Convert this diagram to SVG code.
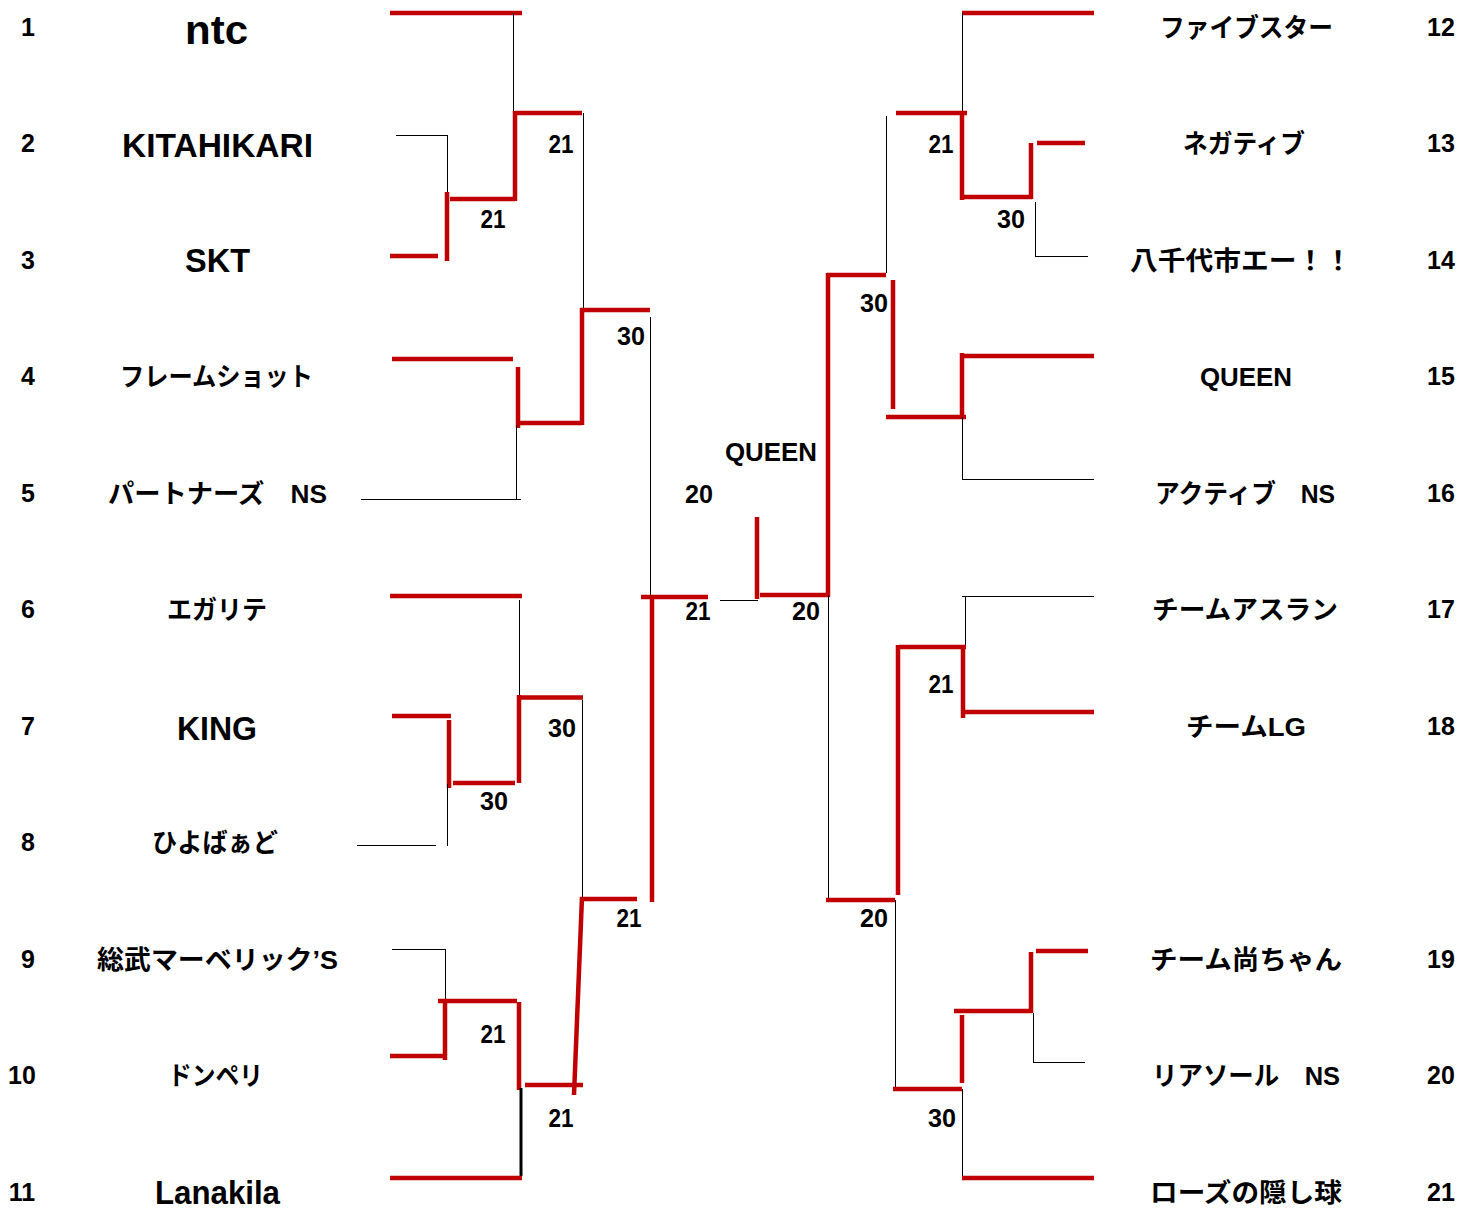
<svg xmlns="http://www.w3.org/2000/svg" width="1477" height="1209" viewBox="0 0 1477 1209">
<style>
text{font-family:"Liberation Sans","Noto Sans CJK JP",sans-serif;font-weight:bold;fill:#000;text-anchor:middle}
.num{font-size:25px}
.nm{font-size:26px}
.big{font-size:34px}
.sc{font-size:26px}
.r{stroke:#C00000;stroke-width:4.5;fill:none}
.k{stroke:#000;stroke-width:1;fill:none;shape-rendering:crispEdges}
.k3{stroke:#000;stroke-width:3;fill:none}
</style>
<rect width="1477" height="1209" fill="#fff"/>
<g id="seeds">
<text class="num" x="28" y="36">1</text>
<text class="num" x="28" y="152">2</text>
<text class="num" x="28" y="269">3</text>
<text class="num" x="28" y="385">4</text>
<text class="num" x="28" y="502">5</text>
<text class="num" x="28" y="618">6</text>
<text class="num" x="28" y="735">7</text>
<text class="num" x="28" y="851">8</text>
<text class="num" x="28" y="968">9</text>
<text class="num" x="22" y="1084">10</text>
<text class="num" x="22" y="1201">11</text>
<text class="num" x="1441" y="36">12</text>
<text class="num" x="1441" y="152">13</text>
<text class="num" x="1441" y="269">14</text>
<text class="num" x="1441" y="385">15</text>
<text class="num" x="1441" y="502">16</text>
<text class="num" x="1441" y="618">17</text>
<text class="num" x="1441" y="735">18</text>
<text class="num" x="1441" y="968">19</text>
<text class="num" x="1441" y="1084">20</text>
<text class="num" x="1441" y="1201">21</text>
</g>
<g id="team1"><text class="big" style="font-size:40px" x="216.5" y="44" textLength="63" lengthAdjust="spacingAndGlyphs">ntc</text></g>
<g id="team2"><text class="big" x="217.5" y="157" textLength="191" lengthAdjust="spacingAndGlyphs">KITAHIKARI</text></g>
<g id="team3"><text class="big" x="217.5" y="272" textLength="65" lengthAdjust="spacingAndGlyphs">SKT</text></g>
<g id="team4"><text class="nm" x="216.5" y="386" textLength="193" lengthAdjust="spacingAndGlyphs">フレームショット</text></g>
<g id="team5"><text class="nm" x="217.5" y="503" textLength="219" lengthAdjust="spacingAndGlyphs">パートナーズ　NS</text></g>
<g id="team6"><text class="nm" x="217" y="619" textLength="100" lengthAdjust="spacingAndGlyphs">エガリテ</text></g>
<g id="team7"><text class="big" x="217" y="740" textLength="80" lengthAdjust="spacingAndGlyphs">KING</text></g>
<g id="team8"><text class="nm" x="215" y="852" textLength="126" lengthAdjust="spacingAndGlyphs">ひよばぁど</text></g>
<g id="team9"><text class="nm" x="217.5" y="969" textLength="241" lengthAdjust="spacingAndGlyphs">総武マーベリック’S</text></g>
<g id="team10"><text class="nm" x="215.5" y="1085" textLength="95" lengthAdjust="spacingAndGlyphs">ドンペリ</text></g>
<g id="team11"><text class="big" x="217.5" y="1204" textLength="125" lengthAdjust="spacingAndGlyphs">Lanakila</text></g>
<g id="team12"><text class="nm" x="1246.5" y="37" textLength="173" lengthAdjust="spacingAndGlyphs">ファイブスター</text></g>
<g id="team13"><text class="nm" x="1244" y="153" textLength="122" lengthAdjust="spacingAndGlyphs">ネガティブ</text></g>
<g id="team14"><text class="nm" x="1241" y="270" textLength="222" lengthAdjust="spacingAndGlyphs">八千代市エー！！</text></g>
<g id="team15"><text class="nm" x="1246" y="386" textLength="92" lengthAdjust="spacingAndGlyphs">QUEEN</text></g>
<g id="team16"><text class="nm" x="1245" y="503" textLength="180" lengthAdjust="spacingAndGlyphs">アクティブ　NS</text></g>
<g id="team17"><text class="nm" x="1245" y="619" textLength="186" lengthAdjust="spacingAndGlyphs">チームアスラン</text></g>
<g id="team18"><text class="nm" x="1246" y="736" textLength="120" lengthAdjust="spacingAndGlyphs">チームLG</text></g>
<g id="team19"><text class="nm" x="1246" y="969" textLength="192" lengthAdjust="spacingAndGlyphs">チーム尚ちゃん</text></g>
<g id="team20"><text class="nm" x="1246" y="1085" textLength="188" lengthAdjust="spacingAndGlyphs">リアソール　NS</text></g>
<g id="team21"><text class="nm" x="1246" y="1202" textLength="192" lengthAdjust="spacingAndGlyphs">ローズの隠し球</text></g>
<g id="scores">
<text class="sc" x="561" y="153" textLength="25" lengthAdjust="spacingAndGlyphs">21</text>
<text class="sc" x="493" y="228" textLength="25" lengthAdjust="spacingAndGlyphs">21</text>
<text class="sc" x="631" y="345" textLength="28" lengthAdjust="spacingAndGlyphs">30</text>
<text class="sc" x="699" y="503" textLength="28" lengthAdjust="spacingAndGlyphs">20</text>
<text class="sc" x="698" y="620" textLength="25" lengthAdjust="spacingAndGlyphs">21</text>
<text class="sc" x="562" y="737" textLength="28" lengthAdjust="spacingAndGlyphs">30</text>
<text class="sc" x="494" y="810" textLength="28" lengthAdjust="spacingAndGlyphs">30</text>
<text class="sc" x="629" y="927" textLength="25" lengthAdjust="spacingAndGlyphs">21</text>
<text class="sc" x="493" y="1043" textLength="25" lengthAdjust="spacingAndGlyphs">21</text>
<text class="sc" x="561" y="1127" textLength="25" lengthAdjust="spacingAndGlyphs">21</text>
<text class="nm" x="771" y="461" textLength="92" lengthAdjust="spacingAndGlyphs">QUEEN</text>
<text class="sc" x="806" y="620" textLength="28" lengthAdjust="spacingAndGlyphs">20</text>
<text class="sc" x="941" y="153" textLength="25" lengthAdjust="spacingAndGlyphs">21</text>
<text class="sc" x="1011" y="228" textLength="28" lengthAdjust="spacingAndGlyphs">30</text>
<text class="sc" x="874" y="312" textLength="28" lengthAdjust="spacingAndGlyphs">30</text>
<text class="sc" x="941" y="693" textLength="25" lengthAdjust="spacingAndGlyphs">21</text>
<text class="sc" x="874" y="927" textLength="28" lengthAdjust="spacingAndGlyphs">20</text>
<text class="sc" x="942" y="1127" textLength="28" lengthAdjust="spacingAndGlyphs">30</text>
</g>
<g id="connectors">
<path class="r" d="M390 13H522"/>
<path class="k" d="M513.5 13V113"/>
<path class="r" d="M515 113H582M515 111V201M450 199H515"/>
<path class="k" d="M396 135.5H447.5V193"/>
<path class="r" d="M390 256H438M447 192V261"/>
<path class="k" d="M583.5 113V310"/>
<path class="r" d="M580 310H650M582 308V425M517 423H582M518 367V428"/>
<path class="r" d="M392 359H513"/>
<path class="k" d="M516.5 425V499.5M361 499.5H521"/>
<path class="k" d="M650.5 317V597"/>
<path class="r" d="M641 597H708M652 595V902"/>
<path class="k" d="M720 600.5H758"/>
<path class="r" d="M757 517V599M760 595H830M828 597V273"/>
<path class="k" d="M828.5 595V902"/>
<path class="r" d="M390 596H522"/>
<path class="k" d="M519.5 600V695"/>
<path class="r" d="M517 697.5H583M519 695V783M453 783H515M449 720V788"/>
<path class="r" d="M392 716H451"/>
<path class="k" d="M447.5 784V845.5M357 845.5H436"/>
<path class="k" d="M582.5 700V898"/>
<path class="r" d="M580 899H637M582 897L574 1095"/>
<path class="k" d="M392 949.5H445.5V1000"/>
<path class="r" d="M438 1001H517M445 1001V1060M390 1056H445"/>
<path class="r" d="M519 1002V1090M525 1085H583"/>
<path class="k3" d="M521 1088V1176"/>
<path class="r" d="M390 1178H522"/>
<path class="r" d="M962 13H1094"/>
<path class="k" d="M962.5 13V113"/>
<path class="r" d="M896 113H967M962 111V200M962 197H1032M1031 143V199M1037 143H1085"/>
<path class="k" d="M1035.5 202V256.5H1088"/>
<path class="k" d="M886.5 116V273"/>
<path class="r" d="M827 275H886"/>
<path class="r" d="M893 280V409M886 417H966M962 353V419M962 356H1094"/>
<path class="k" d="M962.5 417V479.5H1094"/>
<path class="k" d="M962 596.5H1094M965.5 596V647"/>
<path class="r" d="M899 647H966M898 645V895M963 645V718M963 712H1094"/>
<path class="r" d="M826 900H895"/>
<path class="k" d="M895.5 900V1090"/>
<path class="r" d="M893 1089H962M962 1015V1083M954 1011H1032M1031 952V1013M1036 951H1088"/>
<path class="k" d="M1033.5 1013V1062.5H1085"/>
<path class="k" d="M962.5 1089V1178"/>
<path class="r" d="M962 1178H1094"/>
</g>
</svg>
